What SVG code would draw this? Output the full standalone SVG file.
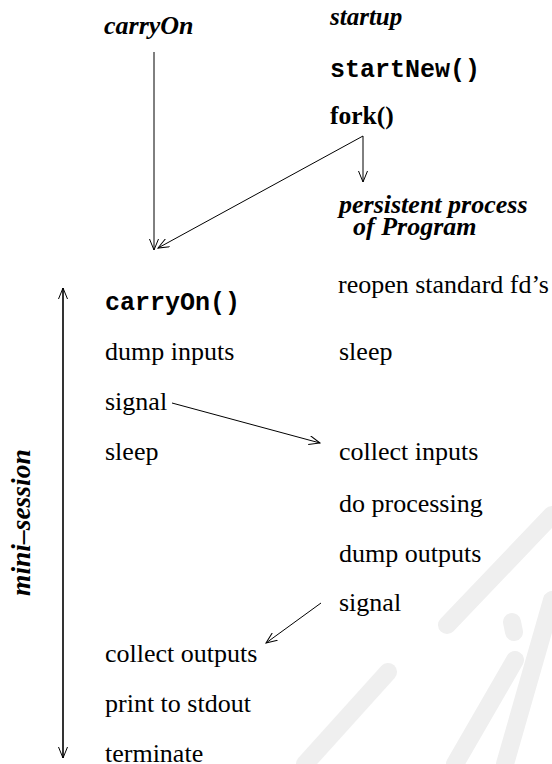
<svg xmlns="http://www.w3.org/2000/svg" width="552" height="764" viewBox="0 0 552 764">
<style>
text{font-family:"Liberation Serif","Times New Roman",serif;font-size:26px;fill:#000}
.bi{font-weight:bold;font-style:italic}
.b{font-weight:bold;font-size:25.5px}
.m{font-family:"Liberation Mono","Courier New",monospace;font-weight:bold;font-size:25px}
.c{fill:none;stroke:#000;stroke-width:1}
.t{fill:none;stroke:#000;stroke-width:1.6}
.w{fill:none;stroke:#efefef;stroke-width:18;stroke-linecap:round}
</style>
<defs>
<marker id="ah" viewBox="0 0 12 10" refX="11" refY="5" markerWidth="12" markerHeight="10" markerUnits="userSpaceOnUse" orient="auto-start-reverse">
<path d="M0,0.5 L11,5 L0,9.5" fill="none" stroke="#000" stroke-width="1"/>
</marker>
</defs>
<rect width="552" height="764" fill="#fff"/>
<g id="watermark">
<line class="w" x1="447" y1="625" x2="552" y2="515"/>
<line class="w" x1="388" y1="672" x2="305" y2="764"/>
<line class="w" x1="512" y1="622" x2="514" y2="632"/>
<line class="w" x1="515" y1="660" x2="455" y2="764"/>
<line class="w" x1="552" y1="600" x2="505" y2="764"/>
</g>
<g id="n-carryOn-title"><text class="bi" x="104" y="34">carryOn</text></g>
<g id="n-startup"><text class="bi" x="330" y="25" style="font-size:25px">startup</text></g>
<g id="n-startNew"><text class="m" x="330" y="77">startNew()</text></g>
<g id="n-fork"><text class="b" x="330" y="124">fork()</text></g>
<g id="n-persistent"><text class="bi" x="339" y="213">persistent process</text><text class="bi" x="353" y="235">of Program</text></g>
<g id="n-reopen"><text x="338" y="293">reopen standard fd’s</text></g>
<g id="n-carryOn-call"><text class="m" x="105" y="310">carryOn()</text></g>
<g id="n-dump-inputs"><text x="105" y="360">dump inputs</text></g>
<g id="n-sleep-r"><text x="339" y="360">sleep</text></g>
<g id="n-signal-l"><text x="105" y="410">signal</text></g>
<g id="n-sleep-l"><text x="105" y="460">sleep</text></g>
<g id="n-collect-inputs"><text x="339" y="460">collect inputs</text></g>
<g id="n-processing"><text x="339" y="512">do processing</text></g>
<g id="n-dump-outputs"><text x="339" y="562">dump outputs</text></g>
<g id="n-signal-r"><text x="339" y="611">signal</text></g>
<g id="n-collect-outputs"><text x="105" y="662">collect outputs</text></g>
<g id="n-print"><text x="105" y="712">print to stdout</text></g>
<g id="n-terminate"><text x="105" y="762">terminate</text></g>
<g id="n-mini-session"><text class="bi" transform="translate(30,596) rotate(-90)" style="font-size:27.5px">mini–session</text></g>
<g id="connectors">
<line class="c" x1="154" y1="52" x2="154" y2="250" marker-end="url(#ah)"/>
<line class="c" x1="363" y1="136" x2="158" y2="248" marker-end="url(#ah)"/>
<line class="c" x1="363" y1="136" x2="363" y2="182" marker-end="url(#ah)"/>
<line class="c" x1="172" y1="403" x2="320" y2="443" marker-end="url(#ah)"/>
<line class="c" x1="321" y1="603" x2="266" y2="643" marker-end="url(#ah)"/>
<line class="t" x1="63" y1="288" x2="63" y2="758" marker-start="url(#ah)" marker-end="url(#ah)"/>
</g>
</svg>
